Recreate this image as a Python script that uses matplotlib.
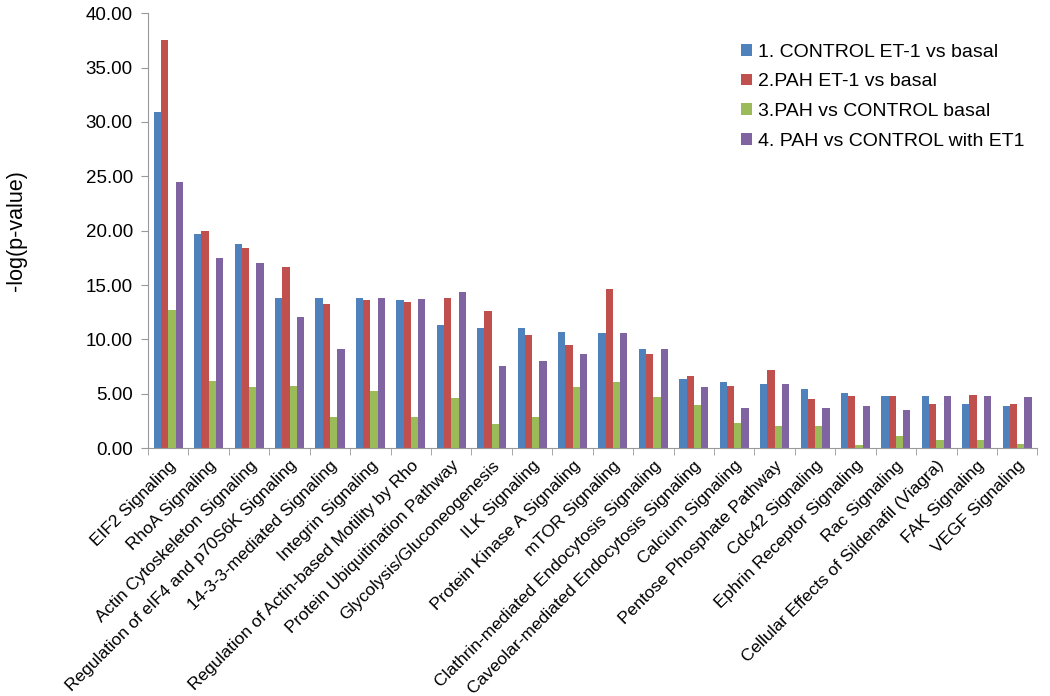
import matplotlib
matplotlib.use("Agg")
import matplotlib.pyplot as plt
import numpy as np

plt.rcParams['font.family'] = ['Liberation Sans', 'DejaVu Sans']

pathways = ["EIF2 Signaling", "RhoA Signaling", "Actin Cytoskeleton Signaling",
            "Regulation of eIF4 and p70S6K Signaling", "14-3-3-mediated Signaling",
            "Integrin Signaling", "Regulation of Actin-based Motility by Rho",
            "Protein Ubiquitination Pathway", "Glycolysis/Gluconeogenesis",
            "ILK Signaling", "Protein Kinase A Signaling", "mTOR Signaling",
            "Clathrin-mediated Endocytosis Signaling",
            "Caveolar-mediated Endocytosis Signaling", "Calcium Signaling",
            "Pentose Phosphate Pathway", "Cdc42 Signaling",
            "Ephrin Receptor Signaling", "Rac Signaling",
            "Cellular Effects of Sildenafil (Viagra)", "FAK Signaling",
            "VEGF Signaling"]

control_et1 = [30.9, 19.7, 18.8, 13.8, 13.8, 13.8, 13.6, 11.3, 11.1, 11.1, 10.7,
               10.6, 9.1, 6.4, 6.1, 5.9, 5.4, 5.1, 4.8, 4.8, 4.1, 3.9]
pah_et1 = [37.5, 20.0, 18.4, 16.7, 13.3, 13.6, 13.4, 13.8, 12.6, 10.4, 9.5,
           14.6, 8.7, 6.6, 5.7, 7.2, 4.5, 4.8, 4.8, 4.1, 4.9, 4.1]
pah_vs_control_basal = [12.7, 6.2, 5.6, 5.7, 2.9, 5.3, 2.9, 4.6, 2.2, 2.9, 5.6,
                        6.1, 4.7, 4.0, 2.3, 2.0, 2.0, 0.3, 1.1, 0.8, 0.8, 0.4]
pah_vs_control_et1 = [24.5, 17.5, 17.0, 12.1, 9.1, 13.8, 13.7, 14.4, 7.6, 8.0, 8.7,
                      10.6, 9.1, 5.6, 3.7, 5.9, 3.7, 3.9, 3.5, 4.8, 4.8, 4.7]

series = [control_et1, pah_et1, pah_vs_control_basal, pah_vs_control_et1]
labels = ["1. CONTROL ET-1 vs basal", "2.PAH ET-1 vs basal",
          "3.PAH vs CONTROL basal", "4. PAH vs CONTROL with ET1"]
colors = ["#4F81BD", "#C0504D", "#9BBB59", "#8064A2"]

fig = plt.figure(figsize=(10.5, 6.96), dpi=100)
ax = fig.add_axes([0.141, 0.356, 0.847, 0.625])

x = np.arange(len(pathways))
w = 0.18
for i, (vals, lab, c) in enumerate(zip(series, labels, colors)):
    ax.bar(x + (i - 1.5) * w, vals, width=w, color=c, label=lab)

ax.set_xlim(-0.5, len(pathways) - 0.5)
ax.set_ylim(0, 40)
ax.set_yticks(np.arange(0, 41, 5))
ax.set_yticklabels([f"{v:.2f}" for v in np.arange(0, 41, 5)], fontsize=13.5)
ax.set_xticks(x)
ax.set_xticklabels(pathways, rotation=45, ha='right', rotation_mode='anchor',
                   fontsize=12.5)
ax.tick_params(axis='x', length=0, pad=7)
ax.set_xticks(np.arange(-0.5, len(pathways)), minor=True)
ax.tick_params(axis='x', which='minor', length=5, color='#999999')
ax.tick_params(axis='y', length=5, color='#999999', pad=6)

for s in ['top', 'right']:
    ax.spines[s].set_visible(False)
for s in ['left', 'bottom']:
    ax.spines[s].set_color('#999999')

ax.set_ylabel("-log(p-value)", fontsize=15.5, labelpad=42)

ax.legend(loc='upper right', bbox_to_anchor=(1.005, 0.97), frameon=False,
          fontsize=14, handlelength=0.55, handleheight=0.55, handletextpad=0.3,
          labelspacing=0.65)

fig.savefig("out.png", dpi=100)
